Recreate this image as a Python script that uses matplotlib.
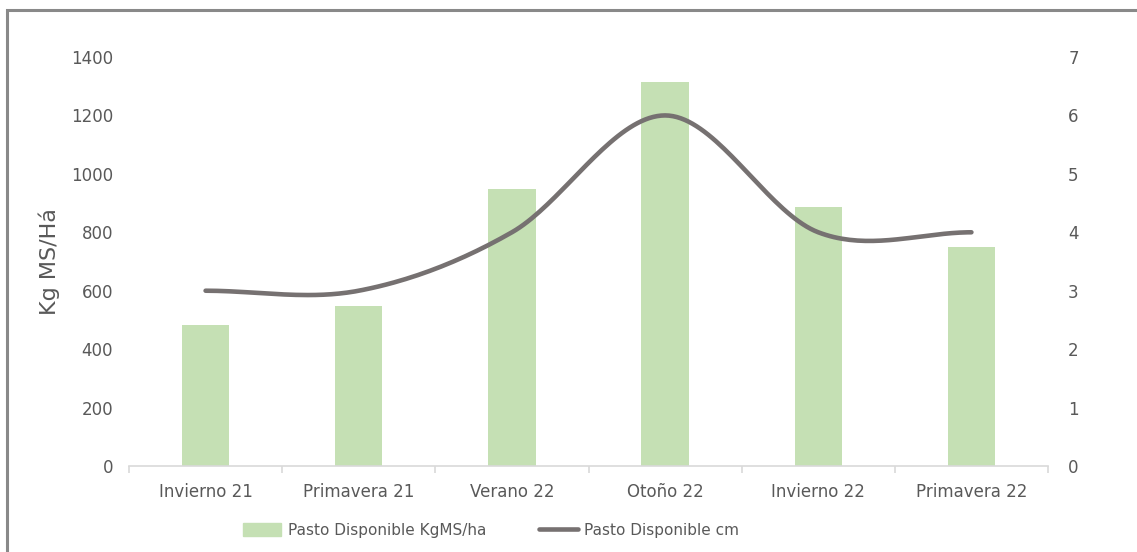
import numpy as np
import matplotlib.pyplot as plt
from matplotlib.patches import Rectangle
from matplotlib.lines import Line2D

# data
seasons = ['Invierno 21', 'Primavera 21', 'Verano 22', 'Otoño 22', 'Invierno 22', 'Primavera 22']
pasto_kg = [483, 548, 948, 1315, 885, 750]
pasto_cm = [3.0, 3.0, 4.0, 6.0, 4.0, 4.0]

bar_color = '#C5E0B4'
line_color = '#767171'
text_color = '#595959'

plt.rcParams['font.family'] = ['DejaVu Sans']


def smooth_line(xs, ys, n=40):
    # Catmull-Rom spline similar to Excel's smoothed line
    xs = np.asarray(xs, float)
    ys = np.asarray(ys, float)
    px = np.concatenate([[2 * xs[0] - xs[1]], xs, [2 * xs[-1] - xs[-2]]])
    py = np.concatenate([[ys[0]], ys, [ys[-1]]])
    out_x, out_y = [], []
    for i in range(1, len(px) - 2):
        t = np.linspace(0, 1, n)
        for p, out in ((px, out_x), (py, out_y)):
            p0, p1, p2, p3 = p[i - 1], p[i], p[i + 1], p[i + 2]
            out.extend(0.5 * (2 * p1 + (-p0 + p2) * t + (2 * p0 - 5 * p1 + 4 * p2 - p3) * t ** 2
                              + (-p0 + 3 * p1 - 3 * p2 + p3) * t ** 3))
    return np.array(out_x), np.array(out_y)


fig = plt.figure(figsize=(11.37, 5.52), dpi=100)
ax = fig.add_axes([129 / 1137, 1 - 466 / 552, 919 / 1137, 409 / 552])
x = np.arange(len(seasons))

ax.bar(x, pasto_kg, width=0.31, color=bar_color, zorder=2)
ax.set_xlim(-0.5, len(seasons) - 0.5)
ax.set_ylim(0, 1400)
ax.set_yticks(range(0, 1401, 200))
ax.set_xticks(x)
ax.set_xticklabels(seasons)
ax.set_xticks(np.arange(-0.5, len(seasons)), minor=True)
ax.tick_params(axis='x', which='major', length=0, pad=12, labelsize=12, colors=text_color)
ax.tick_params(axis='x', which='minor', length=5, color='#D9D9D9', width=1.2)
ax.tick_params(axis='y', length=0, pad=11.5, labelsize=12, colors=text_color)
for s in ['top', 'left', 'right']:
    ax.spines[s].set_visible(False)
ax.spines['bottom'].set_color('#D9D9D9')
ax.spines['bottom'].set_linewidth(1.2)
ax.set_ylabel('Kg MS/Há', fontsize=16, color=text_color, labelpad=8)

ax2 = ax.twinx()
sx, sy = smooth_line(x, pasto_cm)
ax2.plot(sx, sy, color=line_color, linewidth=3.3, solid_capstyle='round', zorder=3)
ax2.set_ylim(0, 7)
ax2.set_yticks(range(0, 8))
ax2.tick_params(axis='y', length=0, pad=14.5, labelsize=12, colors=text_color)
for s in ['top', 'left', 'right', 'bottom']:
    ax2.spines[s].set_visible(False)

handles = [Rectangle((0, 0), 1, 1, color=bar_color),
           Line2D([0], [0], color=line_color, linewidth=3.3, solid_capstyle='round')]
fig.legend(handles, ['Pasto Disponible KgMS/ha', 'Pasto Disponible cm'],
           loc='center', bbox_to_anchor=(491 / 1137, 1 - 530 / 552), ncol=2, frameon=False,
           fontsize=11, labelcolor=text_color, handlelength=2.5, handletextpad=0.4,
           columnspacing=3.5, handleheight=0.9)

# outer chart border (cropped at right and bottom)
fig.patches.append(Rectangle((7 / 1137, -0.05), 1.1, 1 - 10 / 552 + 0.05, transform=fig.transFigure,
                             fill=False, edgecolor='#898989', linewidth=2.2))

fig.savefig('out.png', dpi=100)
